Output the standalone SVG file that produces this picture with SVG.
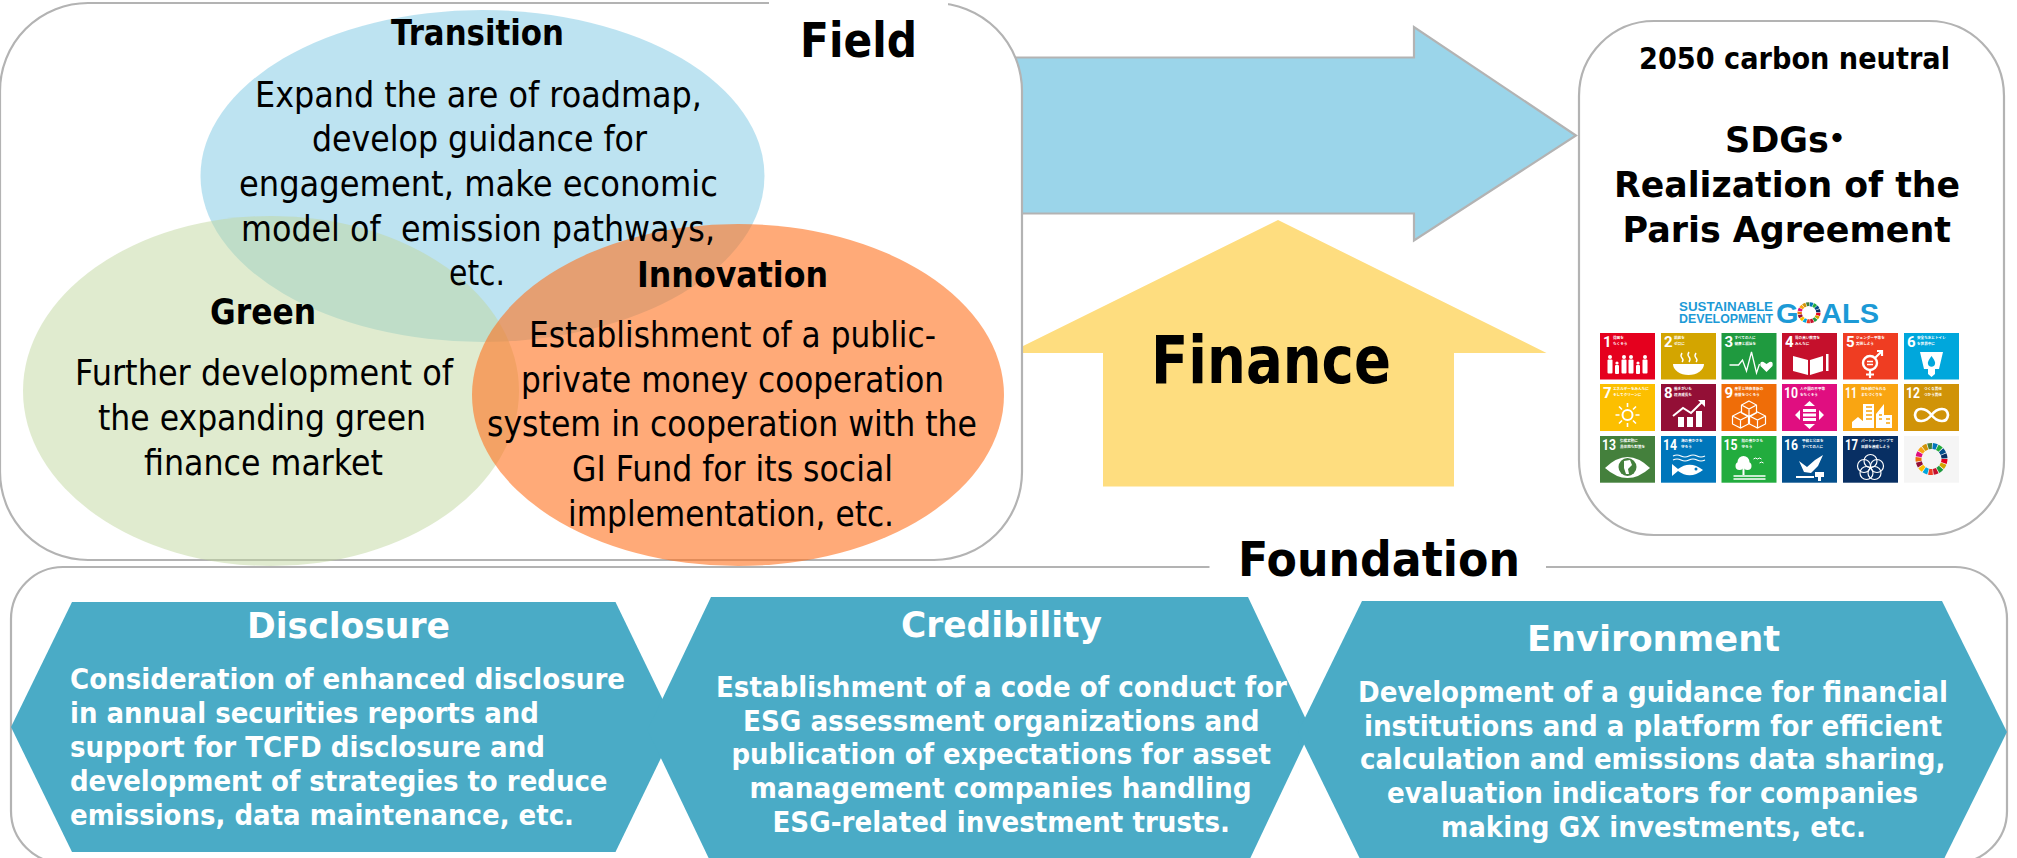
<svg xmlns="http://www.w3.org/2000/svg" xmlns:xlink="http://www.w3.org/1999/xlink" width="2017" height="858" viewBox="0 0 2017 858">
<style>
text{font-family:"DejaVu Sans","Noto Sans CJK JP",sans-serif;fill:#000}
.box{fill:#fff;stroke:#b3b3b3;stroke-width:2.2}
.blk{stroke:#b3b3b3;stroke-width:2.2;fill:#9bd5ea}
.h{font-weight:700;font-size:35px}
.t{font-size:36px}
.hex{fill:#4aabc6}
.hw{font-weight:700;font-size:36px;fill:#fff}
.bw{font-weight:700;font-size:27.5px;fill:#fff}
.rb{font-weight:700;font-size:36px}
.n{font-family:"Roboto","Noto Sans",sans-serif;font-weight:700;font-size:15px;fill:#fff}
.j{font-family:"Noto Sans CJK JP",sans-serif;font-size:3.6px;font-weight:700;fill:#fff}
.w{fill:#fff;stroke:none}
.l{fill:none;stroke:#fff;stroke-width:2}
.sdg{font-family:"Liberation Sans",sans-serif;font-weight:700;fill:#1c9ad6}
.seg{fill:none;stroke-width:6;stroke-dasharray:.85 16.15}
</style>
<defs>
<g id="wheel">
<circle class="seg" r="13" pathLength="17" stroke="#e5001e" stroke-dashoffset="0"/>
<circle class="seg" r="13" pathLength="17" stroke="#d3a500" stroke-dashoffset="-1"/>
<circle class="seg" r="13" pathLength="17" stroke="#1f9a3f" stroke-dashoffset="-2"/>
<circle class="seg" r="13" pathLength="17" stroke="#c5102c" stroke-dashoffset="-3"/>
<circle class="seg" r="13" pathLength="17" stroke="#ef3d22" stroke-dashoffset="-4"/>
<circle class="seg" r="13" pathLength="17" stroke="#00a7dc" stroke-dashoffset="-5"/>
<circle class="seg" r="13" pathLength="17" stroke="#fcbf00" stroke-dashoffset="-6"/>
<circle class="seg" r="13" pathLength="17" stroke="#930f36" stroke-dashoffset="-7"/>
<circle class="seg" r="13" pathLength="17" stroke="#ef6d08" stroke-dashoffset="-8"/>
<circle class="seg" r="13" pathLength="17" stroke="#e00e80" stroke-dashoffset="-9"/>
<circle class="seg" r="13" pathLength="17" stroke="#f9a512" stroke-dashoffset="-10"/>
<circle class="seg" r="13" pathLength="17" stroke="#d09308" stroke-dashoffset="-11"/>
<circle class="seg" r="13" pathLength="17" stroke="#44803c" stroke-dashoffset="-12"/>
<circle class="seg" r="13" pathLength="17" stroke="#0076bb" stroke-dashoffset="-13"/>
<circle class="seg" r="13" pathLength="17" stroke="#22ac3e" stroke-dashoffset="-14"/>
<circle class="seg" r="13" pathLength="17" stroke="#034f8c" stroke-dashoffset="-15"/>
<circle class="seg" r="13" pathLength="17" stroke="#082f63" stroke-dashoffset="-16"/>
</g>
</defs>
<rect width="2017" height="858" fill="#fff"/>

<g id="connectors">
<polygon id="arrow-field-goal" class="blk" points="1000,57.5 1414,57.5 1414,27 1576,135.5 1414,240.5 1414,213.5 1000,213.5"/>
<polygon id="arrow-finance" fill="#fedd7f" points="1278,220 1546.500,353 1454,353 1454,486.5 1103,486.5 1103,353 1009,353"/>
</g>

<g id="field">
<rect class="box" x="0" y="3" width="1022" height="557" rx="88" ry="88"/>
<rect x="769" y="0" width="179" height="10" fill="#fff"/>
<text x="800" y="57" font-size="48" font-weight="700" textLength="117" lengthAdjust="spacingAndGlyphs">Field</text>
</g>

<g id="transition">
<ellipse cx="482.5" cy="176" rx="282" ry="166" fill="#9bd5ea" fill-opacity=".66"/>
</g>
<g id="green">
<ellipse cx="271" cy="391" rx="248" ry="175" fill="#c1d79f" fill-opacity=".5"/>
</g>
<g id="innovation">
<ellipse cx="738" cy="395" rx="266" ry="171" fill="#ff711e" fill-opacity=".6"/>
</g>

<g id="transition-text">
<text class="h" x="391" y="45" textLength="173" lengthAdjust="spacingAndGlyphs">Transition</text>
<text class="t" x="255" y="106.5" textLength="447" lengthAdjust="spacingAndGlyphs">Expand the are of roadmap,</text>
<text class="t" x="312" y="151" textLength="335" lengthAdjust="spacingAndGlyphs">develop guidance for</text>
<text class="t" x="239" y="196" textLength="479" lengthAdjust="spacingAndGlyphs">engagement, make economic</text>
<text class="t" x="241" y="241" textLength="474" lengthAdjust="spacingAndGlyphs" xml:space="preserve">model of  emission pathways,</text>
<text class="t" x="449" y="285" textLength="56" lengthAdjust="spacingAndGlyphs">etc.</text>
</g>
<g id="green-text">
<text class="h" x="210" y="323.5" textLength="106" lengthAdjust="spacingAndGlyphs">Green</text>
<text class="t" x="75" y="385" textLength="378" lengthAdjust="spacingAndGlyphs">Further development of</text>
<text class="t" x="98" y="430" textLength="328" lengthAdjust="spacingAndGlyphs">the expanding green</text>
<text class="t" x="144" y="475" textLength="239" lengthAdjust="spacingAndGlyphs">finance market</text>
</g>
<g id="innovation-text">
<text class="h" x="637" y="286.5" textLength="191" lengthAdjust="spacingAndGlyphs">Innovation</text>
<text class="t" x="529" y="346.5" textLength="407" lengthAdjust="spacingAndGlyphs">Establishment of a public-</text>
<text class="t" x="521" y="392" textLength="423" lengthAdjust="spacingAndGlyphs">private money cooperation</text>
<text class="t" x="487" y="436" textLength="490" lengthAdjust="spacingAndGlyphs">system in cooperation with the</text>
<text class="t" x="572" y="481" textLength="321" lengthAdjust="spacingAndGlyphs">GI Fund for its social</text>
<text class="t" x="568" y="526" textLength="326" lengthAdjust="spacingAndGlyphs">implementation, etc.</text>
</g>

<g id="finance">
<text x="1151" y="382.5" font-size="65" font-weight="700" textLength="240" lengthAdjust="spacingAndGlyphs">Finance</text>
</g>

<g id="goal-box">
<rect class="box" x="1579" y="21" width="425" height="514" rx="75" ry="75"/>
<rect x="1576" y="491" width="7" height="18" fill="#fff"/>
<text x="1639" y="69" font-size="30" font-weight="700" textLength="311" lengthAdjust="spacingAndGlyphs">2050 carbon neutral</text>
<text class="rb" y="152"><tspan x="1725" textLength="104" lengthAdjust="spacingAndGlyphs">SDGs</tspan><tspan x="1819" style="font-family:'Noto Sans CJK JP',sans-serif">・</tspan></text>
<text class="rb" x="1614" y="197" textLength="346" lengthAdjust="spacingAndGlyphs">Realization of the</text>
<text class="rb" x="1622.5" y="242" textLength="328.5" lengthAdjust="spacingAndGlyphs">Paris Agreement</text>
</g>

<g id="sdg-logo">
<text class="sdg" x="1679" y="310.7" font-size="13" textLength="94" lengthAdjust="spacingAndGlyphs">SUSTAINABLE</text>
<text class="sdg" x="1679" y="322.7" font-size="13" textLength="94" lengthAdjust="spacingAndGlyphs">DEVELOPMENT</text>
<text class="sdg" x="1776" y="322.5" font-size="28" textLength="103" lengthAdjust="spacingAndGlyphs">G<tspan fill="none">O</tspan>ALS</text>
<use xlink:href="#wheel" href="#wheel" transform="translate(1809,312.7) scale(.72,.66)"/>
</g>

<g id="goal-1" transform="translate(1600,333)"><rect width="55" height="46.5" fill="#e5001e"/><text class="n" x="3" y="14">1</text><text class="j" x="13" y="6">貧困を</text><text class="j" x="13" y="12">なくそう</text>
<g class="w"><circle cx="10" cy="24" r="2"/><rect x="7.5" y="26.500" width="5" height="14" rx="1"/><circle cx="17" cy="30" r="1.6"/><rect x="15" y="32" width="4" height="9" rx="1"/><circle cx="24" cy="24" r="2"/><rect x="21.5" y="26.500" width="5" height="14" rx="1"/><circle cx="31" cy="24" r="2"/><rect x="28.5" y="26.500" width="5" height="14" rx="1"/><circle cx="38" cy="30" r="1.6"/><rect x="36" y="32" width="4" height="9" rx="1"/><circle cx="45" cy="24" r="2"/><rect x="42.5" y="26.500" width="5" height="14" rx="1"/></g></g>

<g id="goal-2" transform="translate(1661,333)"><rect width="55" height="46.5" fill="#d3a500"/><text class="n" x="3" y="14">2</text><text class="j" x="13" y="6">飢餓を</text><text class="j" x="13" y="12">ゼロに</text>
<path class="w" d="M12,31H43A15.5,11 0 0 1 12,31Z"/><path class="l" style="stroke-width:1.4" d="M21,20q-2,3 0,5t0,4M28,19q-2,3 0,5t0,5M35,20q-2,3 0,5t0,4"/></g>

<g id="goal-3" transform="translate(1721.5,333)"><rect width="55" height="46.5" fill="#1f9a3f"/><text class="n" x="3" y="14">3</text><text class="j" x="13" y="6">すべての人に</text><text class="j" x="13" y="12">健康と福祉を</text>
<path class="l" style="stroke-width:1.3" d="M8,32H17L21,27L25,38L30,19L35,40L38,31"/><path class="w" d="M45,39L39,33Q38,28 42,29L45,31L48,29Q52,28 51,33Z"/></g>

<g id="goal-4" transform="translate(1782,333)"><rect width="55" height="46.5" fill="#c5102c"/><text class="n" x="3" y="14">4</text><text class="j" x="13" y="6">質の高い教育を</text><text class="j" x="13" y="12">みんなに</text>
<path class="w" d="M11,23L26,27V42L11,38ZM28,27L41,23V38L28,42Z"/><rect class="w" x="44" y="21" width="2.5" height="17"/></g>

<g id="goal-5" transform="translate(1843,333)"><rect width="55" height="46.5" fill="#ef3d22"/><text class="n" x="3" y="14">5</text><text class="j" x="13" y="6">ジェンダー平等を</text><text class="j" x="13" y="12">実現しよう</text>
<circle class="l" style="stroke-width:2.4" cx="27" cy="30" r="7"/><path class="l" style="stroke-width:2.2" d="M32,25L39,18M34,18H39V23M27,37V45M23,41.5H31"/><path class="l" style="stroke-width:1.4" d="M24,28.5H30M24,31.5H30"/></g>

<g id="goal-6" transform="translate(1904,333)"><rect width="55" height="46.5" fill="#00a7dc"/><text class="n" x="3" y="14">6</text><text class="j" x="13" y="6">安全な水とトイレ</text><text class="j" x="13" y="12">を世界中に</text>
<path class="w" d="M16,19H39L35,36H31V41L27.5,44L24,41V36H20Z"/><path fill="#00a7dc" d="M27.5,23Q32,29 31,31A3.6,3.6 0 0 1 24,31Q23,29 27.5,23Z"/></g>

<g id="goal-7" transform="translate(1600,384)"><rect width="55" height="47" fill="#fcbf00"/><text class="n" x="3" y="14">7</text><text class="j" x="13" y="6">エネルギーをみんなに</text><text class="j" x="13" y="12">そしてクリーンに</text>
<circle class="l" style="stroke-width:2" cx="27.5" cy="31" r="5"/><path class="l" style="stroke-width:1.6" d="M27.5,19V23M27.5,39V43M15.5,31H19.5M35.5,31H39.5M19,22.5L22,25.5M33,36.5L36,39.5M36,22.5L33,25.5M22,36.5L19,39.5"/></g>

<g id="goal-8" transform="translate(1661,384)"><rect width="55" height="47" fill="#930f36"/><text class="n" x="3" y="14">8</text><text class="j" x="13" y="6">働きがいも</text><text class="j" x="13" y="12">経済成長も</text>
<path class="w" d="M17,33H23V43H17ZM26,33H32V43H26ZM35,27H41V43H35Z"/><path class="l" d="M12,32L22,24L30,29L41,18"/><path class="w" d="M37,16H44V23Z"/></g>

<g id="goal-9" transform="translate(1721.5,384)"><rect width="55" height="47" fill="#ef6d08"/><text class="n" x="3" y="14">9</text><text class="j" x="13" y="6">産業と技術革新の</text><text class="j" x="13" y="12">基盤をつくろう</text>
<path class="l" style="stroke-width:1.2" d="M27.5,17L35,21V29L27.5,33L20,29V21ZM20,21L27.5,25L35,21M27.5,25V33M19,28L27,32V40L19,44L11,40V32ZM11,32L19,36L27,32M19,36V44M36,28L44,32V40L36,44L28,40V32ZM28,32L36,36L44,32M36,36V44"/></g>

<g id="goal-10" transform="translate(1782,384)"><rect width="55" height="47" fill="#e00e80"/><text class="n" x="2" y="14" textLength="14" lengthAdjust="spacingAndGlyphs">10</text><text class="j" x="18" y="6">人や国の不平等</text><text class="j" x="18" y="12">をなくそう</text>
<path class="w" d="M27.5,17L33,22H22ZM27.5,45L22,40H33ZM13,31L18,26V36ZM42,31L37,26V36ZM21,25H34V28H21ZM21,29.5H34V32.500H21ZM21,34H34V37H21Z"/></g>

<g id="goal-11" transform="translate(1843,384)"><rect width="55" height="47" fill="#f9a512"/><text class="n" x="2" y="14" textLength="12" lengthAdjust="spacingAndGlyphs">11</text><text class="j" x="18" y="6">住み続けられる</text><text class="j" x="18" y="12">まちづくりを</text>
<path class="w" d="M9,38L15,33L21,38V44H9ZM20,20H31V44H20ZM33,30L41,20V44H33ZM41,31H49V44H41Z"/><path d="M23,23H29M23,27H29M23,31H29M23,35H29M36,31H39M36,35H39M43,35H47M43,39H47" stroke="#f9a512" stroke-width="1.4"/></g>

<g id="goal-12" transform="translate(1904,384)"><rect width="55" height="47" fill="#d09308"/><text class="n" x="2" y="14" textLength="14" lengthAdjust="spacingAndGlyphs">12</text><text class="j" x="20" y="6">つくる責任</text><text class="j" x="20" y="12">つかう責任</text>
<path class="l" style="stroke-width:2.6" d="M27.500,31C22,24 12,22 11,31C12,40 22,38 27.500,31C33,24 43,22 44,31C43,40 33,38 27.500,31Z"/></g>

<g id="goal-13" transform="translate(1600,436)"><rect width="55" height="46.700" fill="#44803c"/><text class="n" x="2" y="14" textLength="14" lengthAdjust="spacingAndGlyphs">13</text><text class="j" x="20" y="6">気候変動に</text><text class="j" x="20" y="12">具体的な対策を</text>
<path class="w" d="M5,32Q27.5,10 50,32Q27.500,52 5,32Z"/><circle cx="27.5" cy="31" r="9" fill="#44803c"/><path class="w" d="M24,25L30,24L32,29L28,33L29,38L26,38L24,32Z"/></g>

<g id="goal-14" transform="translate(1661,436)"><rect width="55" height="46.700" fill="#0076bb"/><text class="n" x="2" y="14" textLength="14" lengthAdjust="spacingAndGlyphs">14</text><text class="j" x="20" y="6">海の豊かさを</text><text class="j" x="20" y="12">守ろう</text>
<path class="l" style="stroke-width:1.2" d="M12,20q4,-2 8,0t8,0t8,0t8,0M12,24q4,-2 8,0t8,0t8,0t8,0"/><path class="w" d="M11,28L17,33Q29,24 42,34Q29,44 17,35L11,40Z"/><circle cx="35" cy="33" r="1.500" fill="#0076bb"/></g>

<g id="goal-15" transform="translate(1721.500,436)"><rect width="55" height="46.700" fill="#22ac3e"/><text class="n" x="2" y="14" textLength="14" lengthAdjust="spacingAndGlyphs">15</text><text class="j" x="20" y="6">陸の豊かさも</text><text class="j" x="20" y="12">守ろう</text>
<circle class="w" cx="22" cy="26" r="6"/><circle class="w" cx="18" cy="30" r="4"/><circle class="w" cx="26" cy="30" r="4"/><rect class="w" x="21" y="30" width="2" height="9"/><path class="l" style="stroke-width:1" d="M32,23q2,-2 4,0q2,-2 4,0M38,27q2,-2 4,0"/><path class="l" style="stroke-width:1.300" d="M12,40H44M12,43H44"/></g>

<g id="goal-16" transform="translate(1782,436)"><rect width="55" height="46.700" fill="#034f8c"/><text class="n" x="2" y="14" textLength="14" lengthAdjust="spacingAndGlyphs">16</text><text class="j" x="20" y="6">平和と公正を</text><text class="j" x="20" y="12">すべての人に</text>
<path class="w" d="M17,25L25,31L33,24L41,19L36,30L29,37L22,36ZM14,40H32V42H14ZM33,36H42V41H39V45H36V41H33Z"/></g>

<g id="goal-17" transform="translate(1843,436)"><rect width="55" height="46.700" fill="#082f63"/><text class="n" x="2" y="14" textLength="13" lengthAdjust="spacingAndGlyphs">17</text><text class="j" x="18" y="6">パートナーシップで</text><text class="j" x="18" y="12">目標を達成しよう</text>
<g class="l" style="stroke-width:1.200"><circle cx="27.500" cy="25" r="6.500"/><circle cx="21" cy="30" r="6.500"/><circle cx="34" cy="30" r="6.500"/><circle cx="23.500" cy="37" r="6.500"/><circle cx="31.500" cy="37" r="6.500"/></g></g>

<g id="goal-18" transform="translate(1904,436)"><rect width="55" height="46.700" fill="#f5f5f5"/><use xlink:href="#wheel" href="#wheel" transform="translate(27.500,23)"/></g>

<g id="foundation">
<rect class="box" x="11" y="567" width="1996" height="296" rx="52" ry="52"/>
<rect x="1209.500" y="560" width="336.500" height="12" fill="#fff"/>
<text x="1238" y="576" font-size="48" font-weight="700" textLength="282" lengthAdjust="spacingAndGlyphs">Foundation</text>
</g>

<g id="disclosure">
<polygon class="hex" points="11,727 72,602 615.500,602 676,727 615.500,852 72,852"/>
</g>
<g id="credibility">
<polygon class="hex" points="647.500,730 711,597 1248,597 1311,730 1248,863 711,863"/>
</g>
<g id="environment">
<polygon class="hex" points="1298,732 1362,601 1942,601 2007,732 1942,863 1362,863"/>
</g>

<g id="disclosure-text">
<text class="hw" x="247" y="638" textLength="203" lengthAdjust="spacingAndGlyphs">Disclosure</text>
<text class="bw" x="70" y="689" textLength="555" lengthAdjust="spacingAndGlyphs">Consideration of enhanced disclosure</text>
<text class="bw" x="70" y="723" textLength="469" lengthAdjust="spacingAndGlyphs">in annual securities reports and</text>
<text class="bw" x="70" y="757" textLength="475" lengthAdjust="spacingAndGlyphs">support for TCFD disclosure and</text>
<text class="bw" x="70" y="791" textLength="537.500" lengthAdjust="spacingAndGlyphs">development of strategies to reduce</text>
<text class="bw" x="70" y="825" textLength="504" lengthAdjust="spacingAndGlyphs">emissions, data maintenance, etc.</text>
</g>
<g id="credibility-text">
<text class="hw" x="901" y="637" textLength="201" lengthAdjust="spacingAndGlyphs">Credibility</text>
<text class="bw" x="716" y="697" textLength="571" lengthAdjust="spacingAndGlyphs">Establishment of a code of conduct for</text>
<text class="bw" x="743" y="731" textLength="516.500" lengthAdjust="spacingAndGlyphs">ESG assessment organizations and</text>
<text class="bw" x="731.500" y="764" textLength="539.500" lengthAdjust="spacingAndGlyphs">publication of expectations for asset</text>
<text class="bw" x="749.500" y="798" textLength="502" lengthAdjust="spacingAndGlyphs">management companies handling</text>
<text class="bw" x="772.500" y="832" textLength="457.500" lengthAdjust="spacingAndGlyphs">ESG-related investment trusts.</text>
</g>
<g id="environment-text">
<text class="hw" x="1527" y="650.700" textLength="253" lengthAdjust="spacingAndGlyphs">Environment</text>
<text class="bw" x="1358" y="702" textLength="590" lengthAdjust="spacingAndGlyphs">Development of a guidance for financial</text>
<text class="bw" x="1364" y="736" textLength="578" lengthAdjust="spacingAndGlyphs">institutions and a platform for efficient</text>
<text class="bw" x="1360" y="769" textLength="585.500" lengthAdjust="spacingAndGlyphs">calculation and emissions data sharing,</text>
<text class="bw" x="1387" y="803" textLength="531" lengthAdjust="spacingAndGlyphs">evaluation indicators for companies</text>
<text class="bw" x="1441" y="837" textLength="425" lengthAdjust="spacingAndGlyphs">making GX investments, etc.</text>
</g>
</svg>
